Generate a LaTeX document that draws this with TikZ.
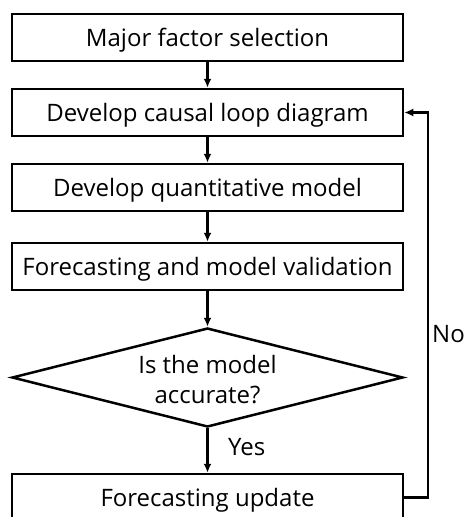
\documentclass[tikz,border=0pt]{standalone}
\usepackage{fontspec}
\setmainfont{Open Sans}
\usetikzlibrary{shapes.geometric,arrows.meta}
\begin{document}
\begin{tikzpicture}[x=1pt,y=-1pt,
  stepbox/.style={draw,line width=2.5pt,minimum width=391pt,minimum height=47pt,inner sep=0pt,text height=18pt,text depth=0pt,font=\fontsize{24}{29}\selectfont},
  decision/.style={draw,line width=2.5pt,diamond,aspect=3.95,minimum width=391pt,minimum height=99pt,inner sep=0pt},
  flow/.style={line width=2.5pt,-{Latex[length=9pt,width=8pt]}},
  lbl/.style={font=\fontsize{24}{29}\selectfont,inner sep=0pt,anchor=base}]
\useasboundingbox (0,0) rectangle (467,517);
\node[stepbox] (s1) at (207.5,37.5) {Major factor selection};
\node[stepbox] (s2) at (207.5,112.5) {Develop causal loop diagram};
\node[stepbox] (s3) at (207.5,187.5) {Develop quantitative model};
\node[stepbox] (s4) at (207.5,266.5) {Forecasting and model validation};
\node[decision] (d) at (207.5,377.5) {};
\node[lbl] (d1) at (207.5,373) {Is the model};
\node[lbl] (d2) at (207.5,403) {accurate?};
\node[stepbox] (s5) at (207.5,497.5) {Forecasting update};
\coordinate (lp) at (428,497.5);
\draw[flow] (s1) -- (s2);
\draw[flow] (s2) -- (s3);
\draw[flow] (s3) -- (s4);
\draw[flow] (s4) -- (d);
\draw[flow] (d) -- (s5);
\draw[flow] (s5.east) -- (lp) |- (s2.east);
\node[lbl,anchor=base west] (no) at (432,342) {No};
\node[lbl,anchor=base west] (yes) at (228,455) {Yes};
\end{tikzpicture}
\end{document}
